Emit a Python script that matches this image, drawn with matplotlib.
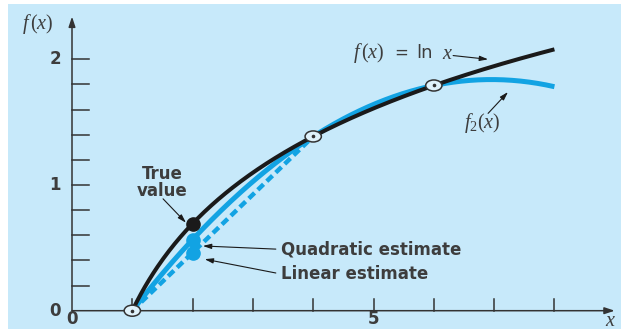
import numpy as np
import matplotlib
matplotlib.use("Agg")
import matplotlib.pyplot as plt
from matplotlib.patches import Rectangle, Ellipse

plt.rcParams["mathtext.fontset"] = "custom"
plt.rcParams["mathtext.it"] = "Liberation Serif:italic"
plt.rcParams["mathtext.rm"] = "Liberation Serif"

# Base points used for interpolation of ln(x)
x_nodes = [1.0, 4.0, 6.0]
f_nodes = [float(np.log(v)) for v in x_nodes]
x_eval = 2.0

# Axis tick values
x_ticks = [1, 2, 3, 4, 5, 6, 7, 8]
y_ticks = [0.2, 0.4, 0.6, 0.8, 1.0, 1.2, 1.4, 1.6, 1.8, 2.0]
x_tick_labels = {0: "0", 5: "5"}
y_tick_labels = {0: "0", 1: "1", 2: "2"}

BG = "#c7e9fa"
BLUE = "#12a3e3"
INK = "#1a1a1a"
AX = "#333333"
TXT = "#3d3d3d"

fig = plt.figure(figsize=(6.21, 3.29), dpi=100)
fig.patch.set_facecolor("white")
fig.patches.append(Rectangle((8 / 621, 0), 1, 1 - 4 / 329, transform=fig.transFigure,
                             facecolor=BG, edgecolor="none", zorder=-10))

ax = fig.add_axes([0, 0, 1, 1])
ax.set_xlim(-1.194, 9.104)
ax.set_ylim(-0.1456, 2.472)
ax.axis("off")

# Newton coefficients for the quadratic through the three nodes
b0 = f_nodes[0]
b1 = (f_nodes[1] - f_nodes[0]) / (x_nodes[1] - x_nodes[0])
b2 = ((f_nodes[2] - f_nodes[1]) / (x_nodes[2] - x_nodes[1]) - b1) / (x_nodes[2] - x_nodes[0])

def quad(x):
    return b0 + b1 * (x - x_nodes[0]) + b2 * (x - x_nodes[0]) * (x - x_nodes[1])

def lin(x):
    return b0 + b1 * (x - x_nodes[0])

xs = np.linspace(1.0, 8.0, 300)
ax.plot(xs, quad(xs), color=BLUE, lw=3.6, solid_capstyle="butt", zorder=3)
ax.plot(xs, np.log(xs), color=INK, lw=2.9, solid_capstyle="butt", zorder=4)
xl = np.array([x_nodes[0], x_nodes[1]])
ax.plot(xl, lin(xl), color=BLUE, lw=3.2, dashes=(1.8, 1.0), zorder=3)

# Axes with arrowheads
ax.annotate("", xy=(9.0, 0), xytext=(0, 0),
            arrowprops=dict(arrowstyle="-|>,head_length=0.6,head_width=0.2",
                            color=AX, lw=1.1, shrinkA=0, shrinkB=0), zorder=5)
ax.annotate("", xy=(0, 2.34), xytext=(0, 0),
            arrowprops=dict(arrowstyle="-|>,head_length=0.6,head_width=0.2",
                            color=AX, lw=1.1, shrinkA=0, shrinkB=0), zorder=5)
for t in x_ticks:
    ax.plot([t, t], [0, 0.09], color=AX, lw=1.1, zorder=5)
for t in y_ticks:
    ax.plot([0, 0.28], [t, t], color=AX, lw=1.1, zorder=5)

sans = dict(family="DejaVu Sans", fontweight="bold", color=TXT)
for v, s in x_tick_labels.items():
    ax.text(v, -0.068, s, ha="center", va="center", fontsize=12, **sans)
for v, s in y_tick_labels.items():
    ax.text(-0.28, v, s, ha="center", va="center", fontsize=12, **sans)

serif = dict(color=TXT, fontsize=14.5)
ax.text(-0.57, 2.28, "$f\\,(x)$", ha="center", va="center", **serif)
ax.text(8.93, -0.075, "$x$", ha="center", va="center", **serif)

# Interpolation nodes
for xn, fn in zip(x_nodes, f_nodes):
    ax.add_patch(Ellipse((xn, fn), 0.27, 0.088, facecolor="#dff2fb",
                         edgecolor=AX, lw=1.1, zorder=6))
    ax.plot(xn, fn, "o", color=AX, ms=1.6, zorder=7)

# Estimates at x = 2
ax.plot(x_eval, lin(x_eval), "o", color=BLUE, ms=9.5, zorder=6)
ax.plot(x_eval, quad(x_eval), "o", color=BLUE, ms=9.5, zorder=6)
ax.plot(x_eval, np.log(x_eval), "o", color=INK, ms=9.5, zorder=7)

arrow = dict(arrowstyle="-|>,head_length=0.5,head_width=0.15", color=INK, lw=0.8,
             shrinkA=0, shrinkB=0)
ax.text(1.49, 1.02, "True\nvalue", ha="center", va="center", linespacing=0.95,
        fontsize=12, **sans)
ax.annotate("", xy=(1.89, 0.70), xytext=(1.51, 0.89), arrowprops=arrow, zorder=8)
ax.text(3.47, 0.49, "Quadratic estimate", ha="left", va="center", fontsize=12, **sans)
ax.annotate("", xy=(2.17, 0.515), xytext=(3.38, 0.49), arrowprops=arrow, zorder=8)
ax.text(3.47, 0.29, "Linear estimate", ha="left", va="center", fontsize=12, **sans)
ax.annotate("", xy=(2.20, 0.41), xytext=(3.38, 0.30), arrowprops=arrow, zorder=8)

ax.text(4.66, 2.05, "$f\\,(x)$", ha="left", va="center", **serif)
ax.text(5.46, 2.05, "=", ha="center", va="center", family="DejaVu Sans",
        fontsize=12, color=TXT)
ax.text(5.71, 2.05, "ln", ha="left", va="center", family="DejaVu Sans",
        fontsize=13, color=TXT)
ax.text(6.13, 2.05, "$x$", ha="left", va="center", **serif)
ax.annotate("", xy=(6.90, 2.00), xytext=(6.32, 2.03), arrowprops=arrow, zorder=8)
ax.text(6.80, 1.49, "$f_{2}(x)$", ha="center", va="center", **serif)
ax.annotate("", xy=(7.23, 1.74), xytext=(6.90, 1.57), arrowprops=arrow, zorder=8)

fig.savefig("out.png", dpi=100, facecolor=fig.get_facecolor())
